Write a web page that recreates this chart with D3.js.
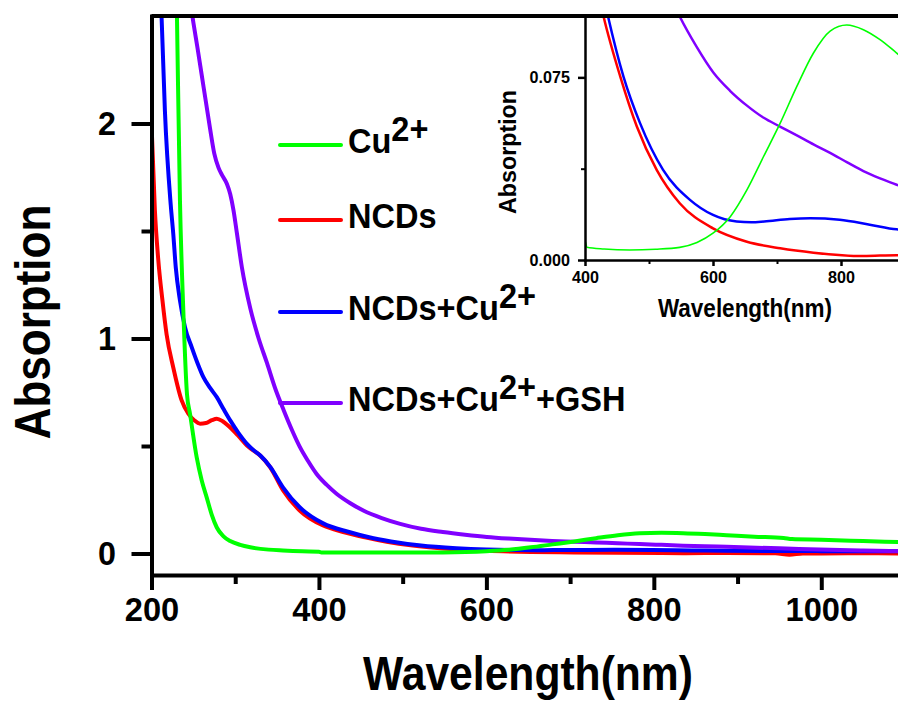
<!DOCTYPE html>
<html>
<head>
<meta charset="utf-8">
<script src="https://cdn.jsdelivr.net/npm/d3@7"></script>
<style>
  body { margin: 0; background: #fff; }
  svg { display: block; }
  text { font-family: "Liberation Sans", Arial, sans-serif; font-weight: bold; fill: #000; }
</style>
</head>
<body>
<svg id="chart" width="898" height="701"></svg>
<script>
// UV-vis spectra, [wavelength (nm), absorbance]
const cuData = [[227,3.3],[230.4,2.5],[234,1.64],[238,1.13],[242.4,0.74],[246,0.65],[254,0.447],[260,0.34],
  [266,0.26],[272,0.18],[278,0.121],[286,0.08],[294,0.058],[306,0.04],[318,0.029],[340,0.018],[357,0.014],
  [380,0.01],[400,0.008],[403,0.0052],[430,0.0045],[470,0.0041],[510,0.0044],[548,0.0052],[575,0.0072],
  [600,0.011],[627,0.0178],[653,0.0288],[679,0.0425],[705,0.0562],[731,0.0713],[757,0.085],[783,0.094],
  [809,0.0965],[835,0.0946],[861,0.0905],[887,0.085],[920,0.078],[955,0.072],[965,0.067],[1000,0.064],
  [1050,0.058],[1100,0.052]];
const ncdData = [[200,2.0],[204,1.6],[208,1.37],[213,1.18],[218,1.02],[226,0.865],[236,0.712],[244,0.65],
  [251,0.62],[258,0.604],[265,0.607],[272,0.62],[278,0.627],[285,0.615],[292,0.593],[303,0.55],[314,0.502],
  [322,0.478],[330,0.455],[342,0.40],[357,0.295],[377,0.2],[405,0.13],[429,0.1],[455,0.0754],[481,0.0548],
  [512,0.037],[548,0.0233],[600,0.013],[653,0.0075],[705,0.0048],[757,0.003],[835,0.0016],[887,0.002],
  [945,0.001],[962,-0.006],[978,0.0],[1000,0.0],[1050,0.001],[1100,0.0]];
const ncdCuData = [[209,2.95],[212,2.5],[216,2.06],[223,1.62],[226,1.487],[229,1.33],[234,1.177],[240,1.053],
  [248,0.96],[255,0.885],[262,0.82],[270,0.77],[278,0.727],[286,0.672],[294,0.619],[304,0.56],[314,0.51],
  [322,0.48],[330,0.456],[342,0.402],[357,0.308],[377,0.215],[405,0.14],[436,0.1],[460,0.0754],[486,0.0562],
  [522,0.037],[564,0.0247],[600,0.0185],[637,0.0158],[660,0.0155],[680,0.0158],[720,0.0168],[752,0.0171],
  [798,0.0165],[845,0.0145],[887,0.0126],[950,0.012],[1000,0.011],[1100,0.01]];
const gshData = [[245,2.6],[250,2.47],[255,2.35],[260,2.225],[265,2.1],[270,1.975],[275,1.86],[280,1.795],
  [285,1.755],[290,1.72],[294,1.672],[298,1.595],[302,1.49],[308,1.33],[318,1.14],[328,1.0],[338,0.885],
  [348,0.765],[358,0.665],[368,0.572],[377,0.497],[387,0.43],[397,0.371],[409,0.32],[421,0.278],[437,0.235],
  [453,0.2],[475,0.165],[497,0.138],[522,0.115],[548,0.1],[574.5,0.0875],[600.5,0.077],[626.6,0.0695],
  [652.6,0.0635],[678.6,0.0585],[704.7,0.0548],[731,0.0512],[757,0.0475],[783,0.044],[809,0.0402],
  [835,0.0365],[861,0.0335],[887,0.0309],[950,0.024],[1010,0.017],[1050,0.014],[1100,0.011]];

// legend order; each label is a list of [text, isSuperscript]
const seriesData = [cuData, ncdData, ncdCuData, gshData];
const seriesLabels = [
  [['Cu', 0], ['2+', 1]],
  [['NCDs', 0]],
  [['NCDs+Cu', 0], ['2+', 1]],
  [['NCDs+Cu', 0], ['2+', 1], ['+GSH', 0]]
];
const seriesColors = ['#00ff00', '#ff0000', '#0000ff', '#8000ff'];
const drawOrder = [1, 2, 3, 0];

const mainXTicks = [200, 400, 600, 800, 1000];
const mainXMinor = [300, 500, 700, 900, 1100];
const mainYTicks = [0, 1, 2];
const mainYMinor = [0.5, 1.5];
const insetXTicks = [400, 600, 800];
const insetXMinor = [500, 700, 900];
const insetYTicks = [0, 0.075];
const insetYMinor = [0.0375];

const svg = d3.select('#chart');

// ---- main plot ----
const x = d3.scaleLinear().domain([200, 1100]).range([151.5, 905]);
const y = d3.scaleLinear().domain([-0.1, 2.5]).range([575, 16]);

// ---- inset ----
const xi = d3.scaleLinear().domain([400, 900]).range([585, 905]);
const yi = d3.scaleLinear().domain([0, 0.1]).range([260, 16.5]);

const defs = svg.append('defs');
defs.append('clipPath').attr('id', 'clipMain').append('rect')
  .attr('x', 151.5).attr('y', 16).attr('width', 905 - 151.5).attr('height', 575 - 16);
defs.append('clipPath').attr('id', 'clipInset').append('rect')
  .attr('x', 585).attr('y', 16).attr('width', 905 - 585).attr('height', 260 - 16);

function drawCurves(sx, sy, clip, widths) {
  const line = d3.line().x(d => sx(d[0])).y(d => sy(d[1])).curve(d3.curveMonotoneX);
  const g = svg.append('g').attr('clip-path', 'url(#' + clip + ')');
  drawOrder.forEach(i => {
    g.append('path')
      .attr('fill', 'none')
      .attr('stroke', seriesColors[i])
      .attr('stroke-width', widths[i])
      .attr('stroke-linejoin', 'round')
      .attr('d', line(seriesData[i]));
  });
}

drawCurves(x, y, 'clipMain', [4, 4, 4, 4]);
drawCurves(xi, yi, 'clipInset', [1.6, 2.5, 2.5, 2.5]);

function styleAxis(g, lw) {
  g.select('.domain').attr('stroke', '#000').attr('stroke-width', lw).attr('stroke-linecap', 'square');
  g.selectAll('.tick line').attr('stroke', '#000').attr('stroke-width', lw);
}

// main x axis
const gxMinor = svg.append('g').attr('transform', 'translate(0,575)')
  .call(d3.axisBottom(x).tickValues(mainXMinor).tickSize(9).tickSizeOuter(0).tickFormat(''));
gxMinor.select('.domain').remove();
styleAxis(gxMinor, 4);
const gx = svg.append('g').attr('transform', 'translate(0,575)')
  .call(d3.axisBottom(x).tickValues(mainXTicks).tickSize(15).tickPadding(7).tickSizeOuter(0).tickFormat(d3.format('d')));
styleAxis(gx, 4);
gx.selectAll('text').attr('font-size', 34).attr('fill', '#000').attr('transform', 'scale(0.96,1)');

// main y axis
const gyMinor = svg.append('g').attr('transform', 'translate(151.5,0)')
  .call(d3.axisLeft(y).tickValues(mainYMinor).tickSize(10).tickSizeOuter(0).tickFormat(''));
gyMinor.select('.domain').remove();
styleAxis(gyMinor, 4);
const gy = svg.append('g').attr('transform', 'translate(151.5,0)')
  .call(d3.axisLeft(y).tickValues(mainYTicks).tickSize(20).tickPadding(15).tickSizeOuter(0).tickFormat(d3.format('d')));
styleAxis(gy, 4);
gy.selectAll('text').attr('font-size', 34).attr('fill', '#000')
  .attr('x', -35.5 / 0.95).attr('transform', 'scale(0.95,1)');

// top frame line
svg.append('line').attr('x1', 151.5).attr('x2', 905).attr('y1', 16).attr('y2', 16)
  .attr('stroke', '#000').attr('stroke-width', 4);

// axis titles
svg.append('text').attr('transform', 'translate(528,690) scale(0.87,1)')
  .attr('text-anchor', 'middle').attr('font-size', 49).text('Wavelength(nm)');
svg.append('text').attr('transform', 'translate(50,322) rotate(-90) scale(0.88,1)')
  .attr('text-anchor', 'middle').attr('font-size', 50).text('Absorption');

// inset axes
const gxiMinor = svg.append('g').attr('transform', 'translate(0,260)')
  .call(d3.axisBottom(xi).tickValues(insetXMinor).tickSize(4).tickSizeOuter(0).tickFormat(''));
gxiMinor.select('.domain').remove();
styleAxis(gxiMinor, 2);
const gxi = svg.append('g').attr('transform', 'translate(0,260)')
  .call(d3.axisBottom(xi).tickValues(insetXTicks).tickSize(6).tickPadding(5).tickSizeOuter(0).tickFormat(d3.format('d')));
styleAxis(gxi, 2.5);
gxi.selectAll('text').attr('font-size', 17).attr('fill', '#000').attr('transform', 'scale(0.95,1)');

const gyiMinor = svg.append('g').attr('transform', 'translate(585,0)')
  .call(d3.axisLeft(yi).tickValues(insetYMinor).tickSize(4).tickSizeOuter(0).tickFormat(''));
gyiMinor.select('.domain').remove();
styleAxis(gyiMinor, 2);
const gyi = svg.append('g').attr('transform', 'translate(585,0)')
  .call(d3.axisLeft(yi).tickValues(insetYTicks).tickSize(7).tickPadding(8).tickSizeOuter(0).tickFormat(d3.format('.3f')));
styleAxis(gyi, 2.5);
gyi.selectAll('text').attr('font-size', 17).attr('fill', '#000')
  .attr('x', -15 / 0.95).attr('transform', 'scale(0.95,1)');

svg.append('text').attr('transform', 'translate(745,317) scale(0.9,1)')
  .attr('text-anchor', 'middle').attr('font-size', 25).text('Wavelength(nm)');
svg.append('text').attr('transform', 'translate(516,152) rotate(-90) scale(0.97,1)')
  .attr('text-anchor', 'middle').attr('font-size', 24).text('Absorption');

// legend
const legendRows = [145, 220, 312, 403];
const legend = svg.append('g');
seriesLabels.forEach((parts, i) => {
  const ly = legendRows[i];
  legend.append('line').attr('x1', 280).attr('x2', 341).attr('y1', ly).attr('y2', ly)
    .attr('stroke', seriesColors[i]).attr('stroke-width', 4).attr('stroke-linecap', 'round');
  const t = legend.append('text').attr('transform', 'translate(348,' + (ly + 8) + ') scale(0.93,1)')
    .attr('font-size', 35);
  let raised = false;
  parts.forEach(p => {
    const sup = p[1] === 1;
    let dy = 0;
    if (sup && !raised) { dy = -12; raised = true; }
    else if (!sup && raised) { dy = 12; raised = false; }
    t.append('tspan').attr('dy', dy).text(p[0]);
  });
});
</script>
</body>
</html>
